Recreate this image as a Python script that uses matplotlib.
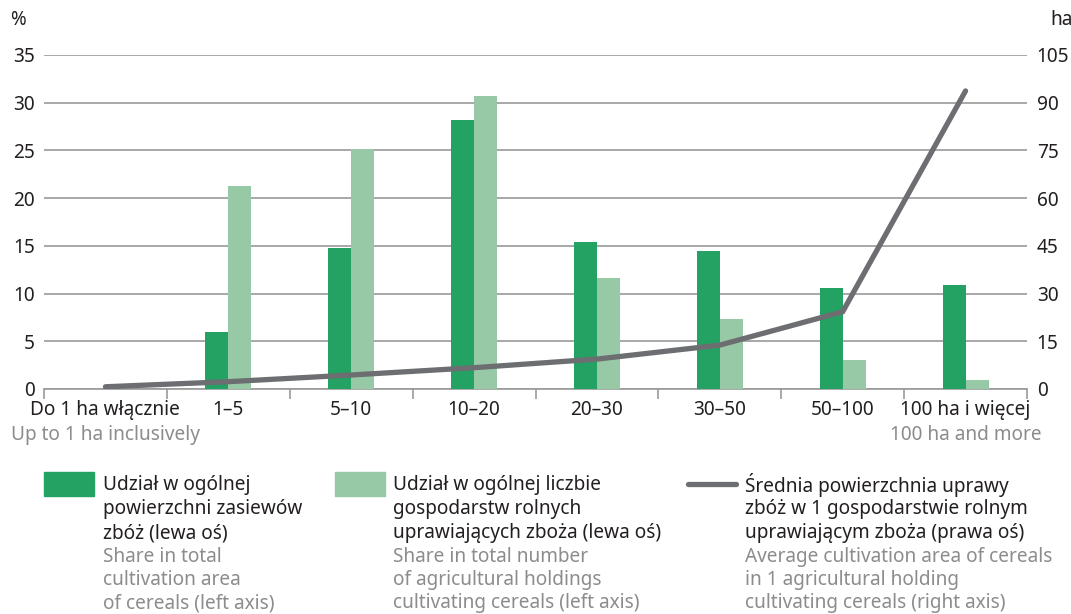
import matplotlib
matplotlib.use("Agg")
import matplotlib.pyplot as plt
from matplotlib.patches import Rectangle
from matplotlib.lines import Line2D
import numpy as np

plt.rcParams['font.family'] = ['Noto Sans', 'DejaVu Sans']

categories_pl = ["Do 1 ha włącznie", "1–5", "5–10", "10–20", "20–30", "30–50", "50–100", "100 ha i więcej"]
categories_en = ["Up to 1 ha inclusively", "", "", "", "", "", "", "100 ha and more"]
share_area = [0.0, 6.0, 14.8, 28.2, 15.4, 14.5, 10.6, 10.9]
share_holdings = [0.0, 21.3, 25.1, 30.7, 11.6, 7.3, 3.0, 0.9]
avg_area = [0.7, 2.3, 4.4, 6.7, 9.4, 13.8, 24.3, 93.7]
left_ticks = [0, 5, 10, 15, 20, 25, 30, 35]
right_ticks = [0, 15, 30, 45, 60, 75, 90, 105]

DARK = "#23a263"
LIGHT = "#98c9a6"
LINEC = "#6d6e71"
GRID = "#9a9a9a"
GREYTXT = "#8c8c8c"
TXT = "#231f20"
FS = 13.7

W, H = 1071, 614
fig = plt.figure(figsize=(W/100, H/100), dpi=100)
ax = fig.add_axes([44/W, 1-389/H, (1027-44)/W, (389-55)/H])
ax2 = ax.twinx()

n = len(categories_pl)
x = np.arange(n)
bw = 0.187
ax.bar(x - bw/2, share_area, width=bw, color=DARK, zorder=3)
ax.bar(x + bw/2, share_holdings, width=bw, color=LIGHT, zorder=3)

ax.set_xlim(-0.5, n-0.5)
ax.set_ylim(0, 35)
ax2.set_ylim(0, 105)
ax.set_yticks(left_ticks)
ax2.set_yticks(right_ticks)
ax.yaxis.grid(True, color=GRID, linewidth=1.2, zorder=0)
ax.set_axisbelow(True)

for a in (ax, ax2):
    for s in ("top", "left", "right", "bottom"):
        a.spines[s].set_visible(False)
ax.spines["bottom"].set_visible(True)
ax.spines["bottom"].set_color(GRID)
ax.spines["bottom"].set_linewidth(1.2)

ax.tick_params(axis='y', length=0, labelsize=FS, pad=6.5, labelcolor=TXT)
ax2.tick_params(axis='y', length=0, labelsize=FS, pad=7, labelcolor=TXT)

# category boundary ticks
ax.set_xticks(np.arange(-0.5, n, 1.0))
ax.set_xticklabels([])
ax.tick_params(axis='x', length=7, color=GRID, width=1.2)
for i in range(n):
    ax.text(x[i], -0.063, categories_pl[i], transform=ax.get_xaxis_transform(),
            ha='center', va='center', fontsize=FS, color=TXT)
    if categories_en[i]:
        ax.text(x[i], -0.138, categories_en[i], transform=ax.get_xaxis_transform(),
                ha='center', va='center', fontsize=FS, color=GREYTXT)

ax2.plot(x, avg_area, color=LINEC, linewidth=3.8, solid_capstyle='round', solid_joinstyle='miter', zorder=5)
ax2.set_zorder(ax.get_zorder() + 1)
ax2.patch.set_visible(False)

fig.text(10/W, 1-20/H, "%", fontsize=FS, ha='left', va='center', color=TXT)
fig.text(1050/W, 1-20/H, "ha", fontsize=FS, ha='left', va='center', color=TXT)

# legend
def fx(px):
    return px / W
def fy(py):
    return 1 - py / H

fig.patches.append(Rectangle((fx(44), fy(496)), 50/W, 24/H, transform=fig.transFigure, color=DARK))
fig.patches.append(Rectangle((fx(335), fy(496)), 50/W, 24/H, transform=fig.transFigure, color=LIGHT))
fig.lines.append(Line2D([fx(688), fx(736)], [fy(484), fy(484)], transform=fig.transFigure,
                        color=LINEC, linewidth=3.8, solid_capstyle='round'))

legend_pl = [["Udział w ogólnej", "powierzchni zasiewów", "zbóż (lewa oś)"],
             ["Udział w ogólnej liczbie", "gospodarstw rolnych", "uprawiających zboża (lewa oś)"],
             ["Średnia powierzchnia uprawy", "zbóż w 1 gospodarstwie rolnym", "uprawiającym zboża (prawa oś)"]]
legend_en = [["Share in total", "cultivation area", "of cereals (left axis)"],
             ["Share in total number", "of agricultural holdings", "cultivating cereals (left axis)"],
             ["Average cultivation area of cereals", "in 1 agricultural holding", "cultivating cereals (right axis)"]]
xs = [103, 393, 745]
ys_pl = [485, 509, 533]
ys_en = [557, 580, 603]
for k in range(3):
    for j, t in enumerate(legend_pl[k]):
        fig.text(fx(xs[k]), fy(ys_pl[j]), t, fontsize=FS, ha='left', va='center', color=TXT)
    for j, t in enumerate(legend_en[k]):
        fig.text(fx(xs[k]), fy(ys_en[j]), t, fontsize=FS, ha='left', va='center', color=GREYTXT)

fig.savefig("out.png", dpi=100)
